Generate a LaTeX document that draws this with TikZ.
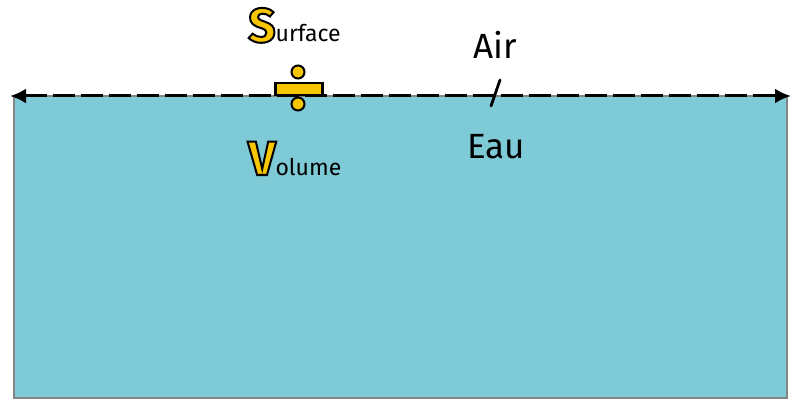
\documentclass[tikz,border=0pt]{standalone}
\usepackage{fontspec}
\setmainfont{Fira Sans}
\usepackage{tikz}
\usetikzlibrary{arrows.meta,positioning}
\definecolor{water}{HTML}{7FCAD7}
\definecolor{rim}{HTML}{858585}
\definecolor{gold}{HTML}{F7C600}
% filled and stroked capital
\newcommand{\bigini}[1]{\textcolor{gold}{\fontsize{48}{48}\selectfont\bfseries
  \special{pdf:literal direct 2 Tr 2 w 0 0 0 RG}#1\special{pdf:literal direct 0 Tr}}}

\begin{document}
\begin{tikzpicture}[
    x=1pt,y=-1pt,
    every node/.style={inner sep=0pt,font=\fontsize{23}{23}\selectfont},
    label/.style={font=\fontsize{35}{35}\selectfont},
    bar/.style={draw,line width=2.2pt,fill=gold},
    dot/.style={circle,draw,line width=2pt,fill=gold,minimum size=13pt},
    surf/.style={{Latex[length=16pt,width=15pt]}-{Latex[length=16pt,width=15pt]},
                 line width=3pt,dash pattern=on 22pt off 6pt},
  ]
  \useasboundingbox (0,0) rectangle (799,409);
  % water
  \draw[rim,line width=2.8pt,fill=water] (14,96) rectangle (787,398);

  % interface
  \coordinate (left) at (10,96);
  \coordinate (right) at (791,96);
  \draw[surf] (left) -- (right);

  % surface / volume
  \node[bar,minimum width=47pt,minimum height=12pt] (div) at (299,89) {};
  \node[dot] (dtop) at (298,72) {};
  \node[dot] (dbot) at (298,104) {};
  \node[anchor=base west] (surface) at (248,42) {\bigini{S}urface};
  \node[anchor=base west] (volume) at (248,175) {\bigini{V}olume};

  % air / eau
  \node[label] (air) at (495,45) {Air};
  \node[label] (eau) at (496,147) {Eau};
  \coordinate (slashtop) at (500,80);
  \coordinate (slashbot) at (491,106);
  \draw[line width=2.8pt,line cap=round] (slashtop) -- (slashbot);
\end{tikzpicture}
\end{document}
